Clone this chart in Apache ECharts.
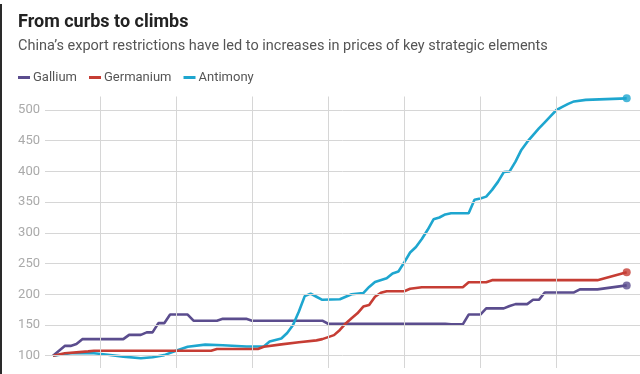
<!DOCTYPE html>
<html>
<head>
<meta charset="utf-8">
<script src="https://cdn.jsdelivr.net/npm/echarts@6/dist/echarts.min.js"></script>
<style>
html,body{margin:0;padding:0;background:#fff;}
#chart{width:640px;height:374px;}
#edge{position:absolute;left:0;top:4px;width:2px;height:370px;background:#2a2a2a;}
</style>
</head>
<body>
<div id="chart"></div>
<div id="edge"></div>
<script>
// x values are weeks from the start of the series (index = 100 at start)
const gridWeeks = [8, 21, 34, 47, 60, 73, 86];
const yTicks = [100, 150, 200, 250, 300, 350, 400, 450, 500];

const seriesNames = ['Gallium', 'Germanium', 'Antimony'];

const galliumWeeks  = [0,2,3,4,5,12,13,15,16,17,18,19,20,23,24,28,29,33,34,46,47,67,68,70,71,73,74,77,78,79,81,82,83,84,89,90,93,98];
const galliumValues = [100,116,116,119,127,127,134,134,138,138,153,153,167,167,157,157,160,160,157,157,152,152,151,151,167,167,177,177,181,184,184,191,191,203,203,208,208,214.5];

const germaniumWeeks  = [0,2,4,6,7,27,28,35,36,39,42,45,46,48,49,50,51,52,53,54,55,56,57,60,61,63,70,71,74,75,93,98];
const germaniumValues = [100,104,105.5,107,108,108,111,111,114.5,118.5,122,125,127,133.5,142,152.5,161,169,180,182.5,196,202.5,205,205,209,211.5,211.5,219.5,219.5,223,223,236];

const antimonyWeeks  = [0,3,7,9,12,15,17,19,21,23,26,29,33,36,37,39,40,41,42,43,44,45,46,49,51,53,54,55,57,58,59,60,61,62,63,64,65,66,67,68,71,72,73,74,75,76,77,78,79,80,81,82,83,84,85,86,87,88,89,91,98];
const antimonyValues = [100,104,104,102,98.5,96,97.5,101,108,114.5,118,117,115,115,123,128,137,150,172,197,201,196,191,192,200,202,212,220,226,234,237,252,268,277,290,305,322,325,330,332,332,354,356,359,370,383,399,400,416,435,448,459,470,480,490,500,505,510,514,516.5,519];

const colors = { Gallium: '#5b4d8e', Germanium: '#c63d34', Antimony: '#1ea6cf' };

function pairs(ws, vs) { return ws.map((w, i) => [w, vs[i]]); }
function last(ws, vs) { return [ws[ws.length - 1], vs[vs.length - 1]]; }

const font = 'Roboto, "Open Sans", sans-serif';

function lineSeries(name, ws, vs, z) {
  return {
    name: name, type: 'line', data: pairs(ws, vs), symbol: 'none',
    lineStyle: { width: 2.6, color: colors[name] }, itemStyle: { color: colors[name] },
    z: z, animation: false
  };
}
function endDot(name, ws, vs, z) {
  return {
    name: name + ' end', type: 'scatter', data: [last(ws, vs)], symbol: 'circle', symbolSize: 8,
    itemStyle: { color: colors[name] }, z: z, animation: false
  };
}

const chart = echarts.init(document.getElementById('chart'), null, { renderer: 'canvas' });
chart.setOption({
  backgroundColor: '#fff',
  animation: false,
  title: [
    { text: 'From curbs to climbs', left: 18, top: 13, padding: 0,
      textStyle: { fontFamily: font, fontSize: 18, fontWeight: 'bold', color: '#222' } },
    { text: 'China\u2019s export restrictions have led to increases in prices of key strategic elements', left: 18, top: 39, padding: 0,
      textStyle: { fontFamily: font, fontSize: 14.5, fontWeight: 'normal', color: '#555' } }
  ],
  legend: {
    data: seriesNames, left: 18, top: 71, padding: 0, icon: 'rect', itemWidth: 12, itemHeight: 3, itemGap: 12,
    textStyle: { fontFamily: font, fontSize: 13, color: '#555', padding: [0, 0, 0, -2] }
  },
  grid: { left: 45, right: 0, top: 96.5, bottom: 6, containLabel: false },
  xAxis: {
    type: 'value', min: -1.37, max: 100.27,
    axisLine: { show: false }, axisTick: { show: false }, axisLabel: { show: false }, splitLine: { show: false }
  },
  yAxis: {
    type: 'value', min: 80, max: 522,
    axisLine: { show: false }, axisTick: { show: false }, splitLine: { show: false },
    axisLabel: { customValues: yTicks, color: '#aaa', fontSize: 13, fontFamily: font, margin: 5 }
  },
  series: [
    {
      name: 'grid', type: 'line', data: [], silent: true,
      markLine: {
        silent: true, symbol: 'none', label: { show: false }, animation: false,
        data: yTicks.map(v => ({ yAxis: v, lineStyle: { color: '#d6d6d6', width: 1, type: 'solid' } }))
          .concat(gridWeeks.map(w => ({ xAxis: w, lineStyle: { color: '#d6d6d6', width: 1, type: 'solid' } })))
      },
      z: 1
    },
    lineSeries('Gallium', galliumWeeks, galliumValues, 2),
    lineSeries('Antimony', antimonyWeeks, antimonyValues, 3),
    lineSeries('Germanium', germaniumWeeks, germaniumValues, 4),
    endDot('Gallium', galliumWeeks, galliumValues, 5),
    endDot('Antimony', antimonyWeeks, antimonyValues, 5),
    endDot('Germanium', germaniumWeeks, germaniumValues, 5)
  ]
});
</script>
</body>
</html>
